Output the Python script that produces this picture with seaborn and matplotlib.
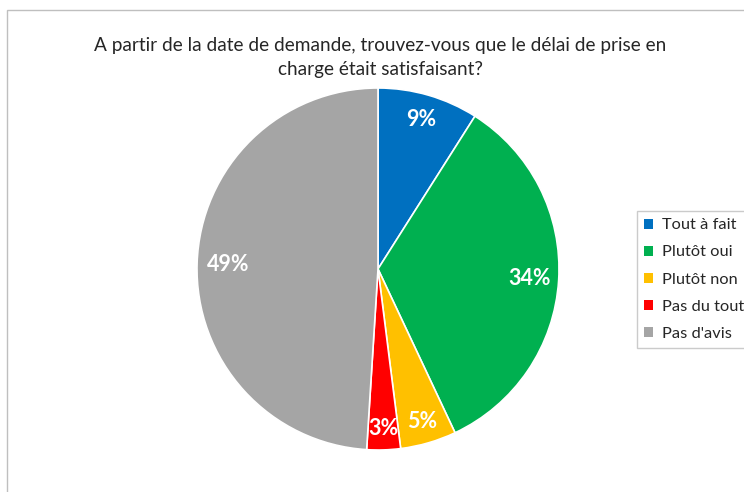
import matplotlib
matplotlib.use("Agg")
import numpy as np
import matplotlib.pyplot as plt
import matplotlib.patches as mpatches
import seaborn as sns

# Data
categories = ["Tout à fait", "Plutôt oui", "Plutôt non", "Pas du tout", "Pas d'avis"]
percents = [9, 34, 5, 3, 49]
colors = ["#0070C0", "#00B050", "#FFC000", "#FF0000", "#A5A5A5"]
label_radius = [0.86, 0.84, 0.88, 0.88, 0.83]
title = "A partir de la date de demande, trouvez-vous que le délai de prise en\ncharge était satisfaisant?"

sns.set_theme(style="white")
plt.rcParams['font.family'] = ['Lato', 'DejaVu Sans']

fig = plt.figure(figsize=(7.44, 4.92), dpi=100)

# chart area border (cropped at right and bottom)
fig.patches.append(mpatches.Rectangle((7 / 744, -0.1), 1.1, 1 - 10 / 492 + 0.1,
                                      transform=fig.transFigure, fill=False,
                                      edgecolor="#BFBFBF", linewidth=1))

fig.text(380 / 744, 1 - 58 / 492, title, ha="center", va="center",
         fontsize=13.7, linespacing=1.5, color="#262626")

ax = fig.add_axes([197 / 744, 1 - 450 / 492, 362 / 744, 362 / 492])
wedges, texts = ax.pie(percents, colors=colors, startangle=90, counterclock=False,
                       radius=1, wedgeprops=dict(edgecolor="white", linewidth=1.2))
for w, p, r in zip(wedges, percents, label_radius):
    ang = np.deg2rad((w.theta1 + w.theta2) / 2)
    ax.text(r * np.cos(ang), r * np.sin(ang), f"{p}%", ha="center", va="center",
            color="white", fontsize=15.5, fontweight="bold")
ax.set_xlim(-1, 1)
ax.set_ylim(-1, 1)
ax.set_aspect("equal")
ax.axis("off")

handles = [mpatches.Patch(facecolor=c, edgecolor="none") for c in colors]
leg = fig.legend(handles, categories, loc="upper left",
                 bbox_to_anchor=(637 / 744, 1 - 211 / 492), frameon=True,
                 fontsize=11.8, handlelength=0.55, handleheight=0.55, handletextpad=0.5,
                 labelspacing=0.8, borderpad=0.45, fancybox=False,
                 borderaxespad=0)
leg.get_frame().set_edgecolor("#BFBFBF")
leg.get_frame().set_linewidth(1)

plt.savefig("out.png", dpi=100)
